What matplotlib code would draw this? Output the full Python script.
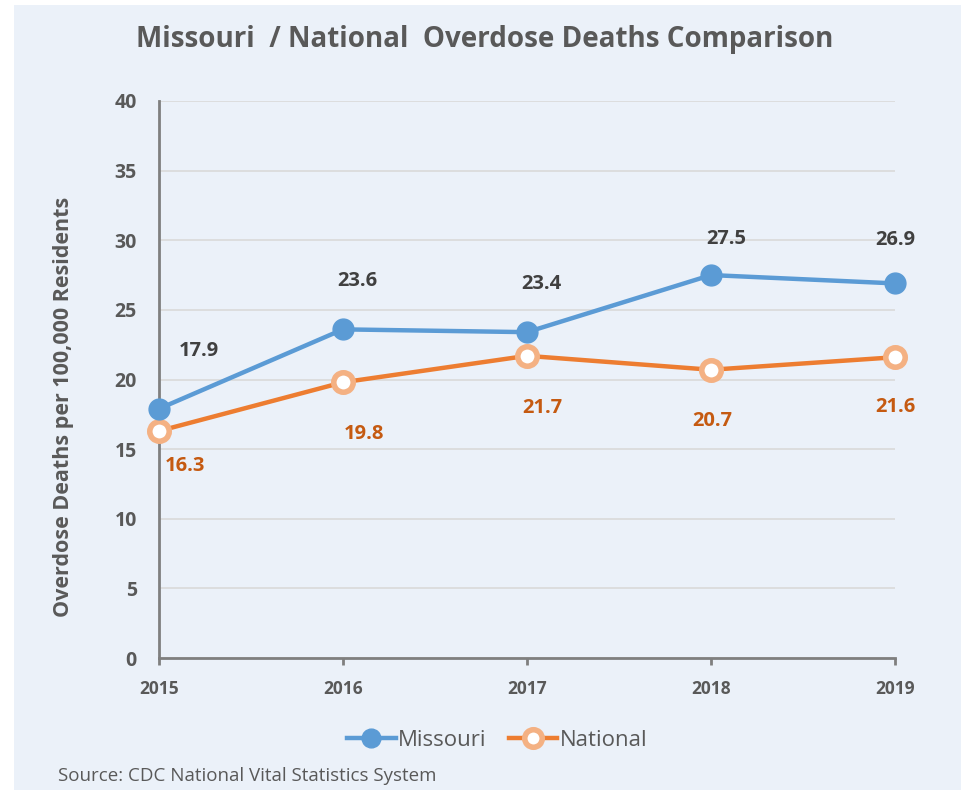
import matplotlib
matplotlib.use("Agg")
import matplotlib.pyplot as plt
from matplotlib.patches import Rectangle

years = [2015, 2016, 2017, 2018, 2019]
missouri = [17.9, 23.6, 23.4, 27.5, 26.9]
national = [16.3, 19.8, 21.7, 20.7, 21.6]
y_ticks = [0, 5, 10, 15, 20, 25, 30, 35, 40]

BG = "#EBF1F9"
TEXT = "#595959"
BLUE = "#5B9BD5"
ORANGE = "#ED7D31"
ORANGE_LIGHT = "#F4B183"
LABEL_ORANGE = "#C55A11"

plt.rcParams["font.family"] = ["Open Sans", "DejaVu Sans"]

W, H = 961, 797
fig = plt.figure(figsize=(W / 100, H / 100), dpi=100)
fig.patch.set_facecolor("white")
fig.add_artist(Rectangle((14 / W, 7 / H), 1 - 14 / W, 1 - 12 / H,
                         transform=fig.transFigure, facecolor=BG,
                         edgecolor="none", zorder=0))

ax = fig.add_axes([159 / W, 1 - 658 / H, (895 - 159) / W, (658 - 101) / H])
ax.set_facecolor("none")

ax.plot(years, missouri, color=BLUE, lw=3.2, marker="o", ms=15,
        mfc=BLUE, mec=BLUE, clip_on=False, zorder=4, label="Missouri")
ax.plot(years, national, color=ORANGE, lw=3.2, marker="o", ms=14,
        mfc="white", mec=ORANGE_LIGHT, mew=4, clip_on=False, zorder=3,
        label="National")

ax.set_xlim(2015, 2019)
ax.set_ylim(0, 40)
ax.set_yticks(y_ticks)
ax.set_xticks(years)
ax.set_xticklabels([str(y) for y in years])
ax.grid(axis="y", color="#D9D9D9", lw=1.2)
ax.set_axisbelow(True)

for side in ("top", "right"):
    ax.spines[side].set_visible(False)
for side in ("left", "bottom"):
    ax.spines[side].set_color("#7F7F7F")
    ax.spines[side].set_linewidth(2)

ax.tick_params(axis="y", length=0, pad=16, labelsize=14, labelcolor=TEXT)
ax.tick_params(axis="x", length=5, width=2, color="#7F7F7F", pad=11,
               labelsize=12.5, labelcolor=TEXT)
for lbl in ax.get_xticklabels() + ax.get_yticklabels():
    lbl.set_fontweight("bold")

ax.set_ylabel("Overdose Deaths per 100,000 Residents", fontsize=15.5,
              fontweight="bold", color=TEXT)
ax.yaxis.set_label_coords(-0.115, 0.45)

# value labels
m_offsets = [(40, 58), (14, 48), (14, 48), (15, 36), (0, 43)]
for x, v, (dx, dy) in zip(years, missouri, m_offsets):
    ax.annotate(f"{v:.1f}", (x, v), xytext=(dx * 0.72, dy * 0.72),
                textcoords="offset points", ha="center", va="center",
                fontsize=14.5, fontweight="bold", color="#404040",
                annotation_clip=False)
n_offsets = [(26, -35), (21, -52), (15, -52), (1, -51), (0, -50)]
for x, v, (dx, dy) in zip(years, national, n_offsets):
    ax.annotate(f"{v:.1f}", (x, v), xytext=(dx * 0.72, dy * 0.72),
                textcoords="offset points", ha="center", va="center",
                fontsize=14.5, fontweight="bold", color=LABEL_ORANGE,
                annotation_clip=False)

fig.text(485 / W, 1 - 40 / H, "Missouri  / National  Overdose Deaths Comparison",
         ha="center", va="center", fontsize=20, fontweight="bold", color=TEXT)

leg = fig.legend(loc="center", bbox_to_anchor=(497 / W, 1 - 740 / H), ncol=2,
                 frameon=False, fontsize=16, handlelength=2.2,
                 handletextpad=0.1, columnspacing=1.0, markerscale=0.9)
for t in leg.get_texts():
    t.set_color(TEXT)

fig.text(58 / W, 1 - 776 / H, "Source: CDC National Vital Statistics System",
         ha="left", va="center", fontsize=13.5, color=TEXT)

fig.savefig("out.png", dpi=100, facecolor=fig.get_facecolor())
